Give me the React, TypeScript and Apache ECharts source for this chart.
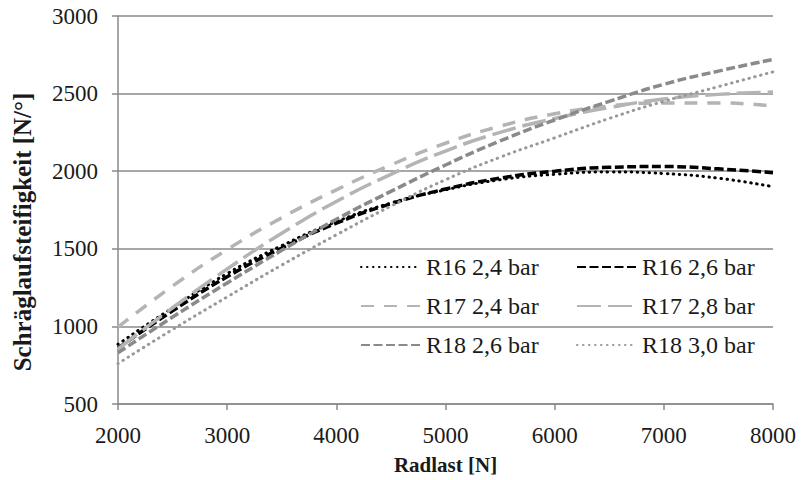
import React, { useEffect, useRef } from "react";
import * as echarts from "echarts";

const radlast = [2000, 2500, 3000, 3500, 4000, 4500, 5000, 5500, 6000, 6500, 7000, 7500, 8000];
const r16_24 = [885, 1120, 1340, 1520, 1675, 1795, 1880, 1945, 1980, 1995, 1985, 1955, 1900];
const r16_26 = [860, 1100, 1320, 1505, 1665, 1790, 1885, 1955, 2000, 2025, 2030, 2015, 1990];
const r17_24 = [995, 1260, 1495, 1700, 1880, 2040, 2180, 2290, 2370, 2420, 2440, 2440, 2420];
const r17_28 = [855, 1120, 1370, 1600, 1805, 1980, 2130, 2250, 2340, 2410, 2465, 2495, 2510];
const r18_26 = [830, 1060, 1280, 1490, 1690, 1870, 2040, 2195, 2330, 2450, 2560, 2645, 2720];
const r18_30 = [760, 980, 1190, 1395, 1590, 1775, 1945, 2090, 2215, 2340, 2450, 2545, 2640];
const seriesNames = ["R16 2,4 bar", "R16 2,6 bar", "R17 2,4 bar", "R17 2,8 bar", "R18 2,6 bar", "R18 3,0 bar"];
const xTicks = [2000, 3000, 4000, 5000, 6000, 7000, 8000];
const yTicks = [500, 1000, 1500, 2000, 2500, 3000];

const FONT = "Liberation Serif";

export default function App() {
  const ref = useRef<HTMLDivElement>(null);
  useEffect(() => {
    if (!ref.current) return;
    const chart = echarts.init(ref.current, null, { renderer: "svg" });
    const values = [r16_24, r16_26, r17_24, r17_28, r18_26, r18_30];
    const styles: any[] = [
      { color: "#000000", width: 3, type: [0.5, 5.5], cap: "round" },
      { color: "#000000", width: 3.5, type: [9, 3.5], cap: "butt" },
      { color: "#b4b4b4", width: 3.5, type: [13, 10], cap: "butt" },
      { color: "#b4b4b4", width: 3.5, type: [24, 7], cap: "butt" },
      { color: "#8a8a8a", width: 3.5, type: [9, 3.5], cap: "butt" },
      { color: "#999999", width: 3, type: [0.5, 5.5], cap: "round" },
    ];
    const series = seriesNames.map((name, i) => ({
      name,
      type: "line",
      smooth: true,
      symbol: "none",
      data: radlast.map((x, j) => [x, values[i][j]]),
      lineStyle: styles[i],
      itemStyle: { color: styles[i].color },
      z: 3,
    }));
    const legendPos = [
      [360, 255],
      [576, 255],
      [360, 294],
      [576, 294],
      [360, 333],
      [576, 333],
    ];
    const legends = seriesNames.map((name, i) => ({
      data: [name],
      left: legendPos[i][0],
      top: legendPos[i][1],
      itemWidth: 60,
      itemHeight: 24,
      itemStyle: { opacity: 0 },
      textStyle: { fontFamily: FONT, fontSize: 24, color: "#1a1a1a" },
      padding: 0,
    }));
    const fmt = (v: number) => String(v);
    chart.setOption({
      animation: false,
      backgroundColor: "#ffffff",
      textStyle: { fontFamily: FONT },
      grid: { left: 118, right: 32, top: 16, bottom: 76, containLabel: false },
      legend: legends,
      xAxis: {
        type: "value",
        min: xTicks[0],
        max: xTicks[xTicks.length - 1],
        interval: 1000,
        name: "Radlast [N]",
        nameLocation: "middle",
        nameGap: 50,
        nameTextStyle: { fontFamily: FONT, fontSize: 21, fontWeight: "bold", color: "#1a1a1a" },
        axisLine: { show: true, lineStyle: { color: "#8a8a8a", width: 1.5 } },
        axisTick: { show: true, length: 6, lineStyle: { color: "#8a8a8a", width: 1.5 } },
        axisLabel: { fontFamily: FONT, fontSize: 23, color: "#1a1a1a", margin: 20, formatter: fmt },
        splitLine: { show: false },
      },
      yAxis: {
        type: "value",
        min: yTicks[0],
        max: yTicks[yTicks.length - 1],
        interval: 500,
        axisLine: { show: true, lineStyle: { color: "#8a8a8a", width: 1.5 } },
        axisTick: { show: true, length: 6, lineStyle: { color: "#8a8a8a", width: 1.5 } },
        axisLabel: { fontFamily: FONT, fontSize: 23, color: "#1a1a1a", margin: 20, formatter: fmt },
        splitLine: { show: true, lineStyle: { color: "#8a8a8a", width: 1.5 } },
      },
      graphic: [
        {
          type: "text",
          x: 22,
          y: 232,
          rotation: Math.PI / 2,
          style: {
            text: "Schräglaufsteifigkeit [N/°]",
            font: `bold 25px ${FONT}`,
            fill: "#1a1a1a",
            align: "center",
            verticalAlign: "middle",
          },
        },
      ],
      series,
    });
    return () => chart.dispose();
  }, []);
  return <div ref={ref} style={{ width: 805, height: 480, position: "absolute", left: 0, top: 0 }} />;
}
